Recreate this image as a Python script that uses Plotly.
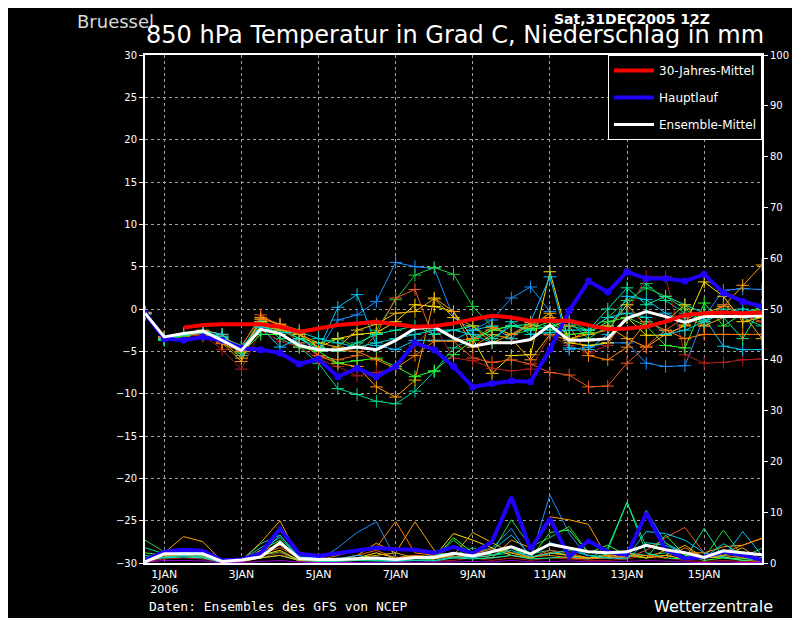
import pandas as pd
import plotly.graph_objects as go
from plotly.subplots import make_subplots

# 12-hourly forecast steps, Sat 31DEC2005 12Z run
times = pd.date_range("2005-12-31 12:00", periods=33, freq="12h")

tick_dates = ["2006-01-01", "2006-01-03", "2006-01-05", "2006-01-07",
              "2006-01-09", "2006-01-11", "2006-01-13", "2006-01-15"]
tick_labels = ["1JAN<br>2006", "3JAN", "5JAN", "7JAN", "9JAN", "11JAN", "13JAN", "15JAN"]

# 850 hPa temperature (deg C)
t_main = [-0.5, -3.5, -3.7, -3.3, -3.7, -4.6, -4.8, -5.2, -6.5, -5.9, -8.0, -7.0, -8.0, -6.8, -4.0, -4.8, -6.8,
          -9.2, -8.8, -8.5, -8.6, -4.8, -0.2, 3.3, 2.0, 4.4, 3.6, 3.6, 3.3, 4.1, 1.9, 0.9, 0.3]
t_mean = [-0.5, -3.3, -2.9, -2.6, -3.7, -4.9, -2.4, -2.9, -4.3, -4.8, -4.8, -4.5, -4.8, -3.7, -2.3, -2.1, -3.4,
          -4.4, -4.0, -4.0, -3.6, -1.9, -3.7, -3.7, -3.5, -1.1, -0.3, -0.9, -1.6, -0.9, -0.9, -0.9, -0.8]
t_clim = [None, None, -2.2, -1.9, -1.8, -1.8, -1.8, -2.1, -2.7, -2.3, -1.9, -1.7, -1.5, -1.8, -2.1, -2.0, -1.7,
          -1.2, -0.8, -1.0, -1.4, -1.4, -1.4, -1.9, -2.4, -2.3, -2.1, -1.5, -0.7, -0.5, -0.4, -0.5, -0.4]

# ensemble members: temperature
t_dodger = [-0.5, -3.4, -3.0, -3.0, -3.3, -5.0, -2.0, -3.0, -4.0, -5.0, -1.3, -0.7, 0.9, 5.5, 5.0, 4.8, -1.0,
            -2.5, -1.3, 1.3, 2.6, -0.3, -4.8, -4.5, -4.0, -4.0, -6.4, -6.8, -6.7, -0.9, 2.2, 2.4, 2.3]
t_green = [-0.5, -3.6, -3.1, -2.7, -3.4, -4.3, -1.2, -2.5, -3.5, -4.0, -3.5, -4.5, -2.5, 1.1, 4.0, 4.9, 4.1,
           0.3, -2.1, -3.0, -2.5, -2.0, -1.5, -2.5, -1.0, 1.0, 2.5, 1.5, 0.0, -1.5, 0.5, -1.0, 0.5]
t_teal = [-0.5, -3.6, -3.2, -3.0, -3.5, -4.8, -1.5, -3.5, -4.5, -6.4, -9.4, -10.1, -10.9, -11.2, -9.7, -7.4, -4.6,
          -3.5, -2.5, -2.0, -2.5, -2.0, -1.5, -3.5, -2.0, 0.5, 3.0, 1.0, -0.5, -1.5, 0.0, -1.0, -2.0]
t_yellow = [-0.5, -3.4, -3.0, -2.5, -3.0, -5.0, -1.5, -2.3, -3.0, -4.5, -3.5, -3.0, -2.8, -1.5, 0.5, 0.3, -0.3,
            -3.5, -7.6, -5.5, -5.4, 4.4, -4.0, -4.3, -4.0, -1.0, -3.1, -3.1, -1.9, 3.2, 1.5, -1.5, -1.0]
t_orange = [-0.4, -3.5, -3.2, -3.0, -4.0, -6.2, -1.0, -1.8, -3.0, -5.5, -6.4, -6.8, -9.2, -10.4, -8.4, 1.3, -0.3,
            -4.5, -3.0, -3.5, -6.0, -3.0, -3.7, -2.5, -2.0, -3.5, -4.5, -3.0, -2.0, -0.5, 0.3, 2.8, 5.2]
t_redorange = [-0.5, -3.3, -3.0, -3.2, -3.2, -4.5, -0.7, -2.0, -4.0, -5.5, -6.0, -5.5, -3.0, 1.3, 2.3, -3.7, -3.8,
               -5.8, -6.3, -6.0, -6.5, -7.5, -7.8, -9.2, -9.1, -6.4, -4.4, -2.5, -1.0, -2.0, 0.5, -0.8, -1.5]
t_darkred = [-0.5, -3.6, -3.3, -3.0, -4.8, -7.1, -2.5, -3.8, -4.5, -5.9, -6.8, -7.9, -7.5, -7.0, -4.3, -1.9, -5.8,
             -6.1, -7.0, -7.3, -7.1, -3.1, -4.3, -5.2, -4.3, -0.5, 3.8, 3.8, -5.4, -6.4, -6.3, -6.0, -5.9]
t_cyan = [-0.6, -3.5, -3.0, -2.6, -3.0, -5.5, -2.2, -4.5, -3.5, -4.8, 0.2, 1.7, -4.3, -4.8, -3.7, -3.7, -3.7,
          -2.5, -2.0, -3.5, -1.5, 3.8, -4.6, -4.8, -3.0, 1.5, 1.1, -0.5, -1.5, -1.0, -4.4, -4.8, -4.8]
t_lime = [-0.5, -3.7, -3.2, -2.8, -3.5, -5.2, -3.0, -3.0, -4.5, -5.0, -6.4, -6.1, -5.8, -6.8, -8.0, -7.3, -5.4,
          -3.7, -2.5, -2.0, -2.3, -1.5, -3.0, -2.8, -1.5, -1.0, -2.0, -4.3, -4.6, 0.7, -2.0, -0.5, 0.0]
t_spring = [-0.5, -3.6, -3.1, -2.7, -3.3, -4.5, -2.5, -2.2, -3.5, -4.5, -5.0, -4.0, -3.0, -2.5, -2.0, -3.0, -2.5,
            -2.0, -3.5, -2.0, -1.8, -2.5, -2.0, -2.5, 0.0, 2.5, 0.5, 1.5, 0.5, -0.5, -1.0, -3.5, 0.3]
t_gold = [-0.4, -3.3, -2.9, -2.6, -3.8, -5.8, -2.0, -2.5, -3.0, -4.0, -4.5, -2.5, -1.8, -0.5, -0.3, 1.2, -1.0,
          -2.0, -4.0, -3.0, -2.0, -0.5, -3.5, -3.0, -2.5, 0.5, -2.0, -1.5, 0.5, -2.0, -1.0, -0.5, -3.5]
t_darkorange = [-0.5, -3.4, -3.0, -2.9, -4.1, -5.0, -1.2, -1.8, -2.5, -4.8, -4.9, -5.0, -6.0, -7.0, -5.5, -3.8, -3.8,
                -3.5, -2.2, -3.0, -1.6, -1.0, -2.0, -5.5, -6.0, -4.5, -1.5, -2.5, -3.5, -3.0, -3.0, -3.0, -3.0]
t_aqua = [-0.6, -3.5, -3.0, -2.8, -3.4, -4.5, -2.0, -2.8, -2.7, -3.5, -4.0, -4.5, -4.0, -3.5, -3.0, -2.5, -2.5,
          -3.0, -4.0, -1.5, -3.0, -2.8, -2.5, -2.5, -1.0, -0.5, -1.0, -3.0, -2.5, -1.5, -0.5, 0.0, -0.5]

# precipitation (mm)
p_main = [0.5, 2.2, 2.6, 2.4, 0.5, 0.7, 1.9, 6.8, 1.8, 1.4, 1.9, 2.4, 3.0, 2.7, 2.6, 2.0, 3.2,
          1.9, 4.2, 13.0, 2.6, 8.8, 1.2, 4.4, 2.2, 1.6, 9.8, 2.6, 0.9, 1.2, 2.2, 1.6, 0.6]
p_mean = [0.2, 1.8, 1.8, 1.8, 0.3, 0.6, 1.2, 4.0, 0.9, 0.7, 0.7, 0.9, 1.0, 0.7, 1.1, 1.1, 1.9,
          1.4, 2.2, 3.2, 1.8, 3.7, 2.9, 2.2, 2.0, 2.2, 3.5, 2.6, 2.0, 1.1, 2.4, 2.0, 1.6]
p_dodger = [0.3, 1.0, 1.2, 1.0, 0.2, 0.3, 1.5, 5.5, 1.0, 0.5, 3.0, 6.0, 8.1, 0.9, 1.0, 1.5, 1.0,
            2.0, 3.0, 6.8, 0.9, 13.4, 5.8, 0.9, 1.0, 1.5, 10.4, 3.9, 2.0, 1.0, 2.2, 1.0, 0.5]
p_green = [4.5, 2.2, 2.5, 2.0, 0.2, 0.4, 1.5, 2.2, 0.5, 0.3, 0.5, 0.8, 0.6, 1.2, 0.5, 0.8, 4.5,
           1.5, 2.0, 8.5, 3.2, 5.0, 7.2, 2.0, 2.5, 11.9, 3.2, 4.0, 1.5, 1.0, 6.5, 1.2, 2.9]
p_teal = [3.0, 1.8, 2.0, 1.5, 0.2, 0.5, 3.8, 5.5, 1.0, 0.5, 1.0, 0.6, 1.0, 0.8, 1.2, 1.0, 1.5,
          3.0, 1.5, 2.0, 1.8, 2.5, 1.5, 1.0, 1.8, 2.0, 1.5, 2.0, 1.0, 1.0, 1.5, 1.0, 0.5]
p_yellow = [0.3, 1.2, 1.5, 1.2, 0.1, 0.3, 1.5, 2.5, 0.5, 0.3, 0.5, 1.0, 2.0, 1.0, 1.5, 1.2, 5.8,
            4.5, 3.0, 1.5, 1.0, 2.0, 1.5, 1.0, 1.2, 2.0, 1.0, 1.5, 0.8, 1.0, 1.2, 0.5, 0.3]
p_orange = [0.5, 2.0, 5.2, 4.2, 0.3, 0.5, 4.0, 8.3, 1.0, 0.8, 0.6, 1.5, 3.9, 2.0, 8.1, 2.5, 1.0,
            1.5, 1.0, 4.5, 3.0, 9.1, 8.5, 7.6, 0.9, 1.5, 1.0, 2.5, 2.0, 2.0, 3.2, 3.5, 4.9]
p_redorange = [0.5, 1.5, 2.0, 1.5, 0.1, 0.3, 1.8, 3.0, 1.0, 0.5, 0.8, 1.5, 2.5, 1.0, 1.5, 1.0, 1.0,
               2.0, 1.0, 1.5, 1.0, 2.5, 2.0, 1.0, 1.5, 1.0, 2.5, 5.0, 7.0, 2.0, 1.5, 1.0, 0.5]
p_darkred = [0.2, 0.8, 1.0, 0.8, 0.1, 0.2, 1.0, 2.0, 0.3, 0.2, 0.3, 0.5, 0.5, 0.3, 0.5, 0.4, 0.5,
             1.0, 0.5, 1.0, 0.5, 1.0, 0.8, 0.5, 0.5, 0.8, 1.5, 1.0, 0.5, 0.3, 0.5, 0.3, 0.2]
p_cyan = [1.0, 2.0, 2.2, 2.0, 0.2, 0.5, 2.0, 6.5, 1.2, 1.0, 0.8, 1.5, 1.0, 0.5, 1.0, 1.5, 2.0,
          1.0, 2.5, 5.5, 1.5, 4.0, 3.0, 1.5, 1.0, 1.2, 6.2, 5.8, 4.5, 2.0, 1.0, 6.2, 1.5]
p_lime = [2.0, 1.5, 1.8, 1.5, 0.2, 0.5, 2.5, 4.5, 0.8, 0.5, 0.6, 0.8, 0.5, 0.5, 1.0, 0.8, 5.0,
          2.0, 1.5, 3.0, 1.0, 6.0, 6.5, 2.0, 3.5, 1.5, 1.0, 5.5, 1.5, 0.5, 1.0, 0.8, 1.0]
p_spring = [1.5, 1.0, 1.2, 1.0, 0.1, 0.3, 1.0, 1.5, 0.5, 0.3, 0.3, 0.5, 0.4, 0.3, 0.5, 0.4, 1.0,
            0.8, 1.0, 1.5, 0.8, 1.0, 1.2, 0.8, 3.0, 12.0, 2.0, 1.0, 0.8, 6.8, 1.0, 0.5, 0.8]
p_gold = [0.5, 2.0, 2.5, 2.2, 0.1, 0.3, 1.0, 1.5, 0.5, 1.0, 0.8, 1.0, 1.5, 2.0, 1.0, 0.8, 1.5,
          6.0, 4.0, 2.0, 1.0, 2.0, 1.5, 1.0, 1.5, 2.0, 1.0, 1.5, 3.5, 1.0, 1.5, 3.0, 0.5]
p_darkorange = [0.3, 1.5, 1.5, 1.2, 0.1, 0.3, 2.5, 3.5, 0.8, 0.5, 1.5, 2.5, 3.0, 8.2, 2.0, 1.5, 1.2,
                1.8, 2.8, 2.0, 1.2, 1.5, 1.0, 0.8, 1.0, 1.2, 1.5, 1.0, 3.0, 1.0, 2.0, 3.5, 4.8]
p_aqua = [0.8, 1.2, 1.5, 1.2, 0.1, 0.6, 3.0, 5.0, 1.0, 0.8, 0.5, 0.8, 0.6, 0.4, 0.6, 0.5, 1.2,
          1.0, 1.5, 2.5, 1.2, 1.8, 2.5, 1.5, 1.0, 0.8, 4.0, 3.5, 2.0, 1.0, 3.8, 1.5, 1.0]
p_purple = [0.1, 0.5, 0.5, 0.4, 0.0, 0.1, 0.3, 0.5, 0.2, 0.1, 0.1, 0.2, 0.1, 0.1, 0.2, 0.1, 0.2,
            0.3, 0.2, 0.5, 0.2, 0.3, 0.4, 0.2, 0.2, 0.3, 0.5, 0.3, 0.2, 0.1, 0.2, 0.1, 0.1]

members = [
    ("#1e90ff", t_dodger, p_dodger),
    ("#20d040", t_green, p_green),
    ("#00d890", t_teal, p_teal),
    ("#ffe000", t_yellow, p_yellow),
    ("#ffa000", t_orange, p_orange),
    ("#f05a20", t_redorange, p_redorange),
    ("#b41e1e", t_darkred, p_darkred),
    ("#00c8ff", t_cyan, p_cyan),
    ("#30ff30", t_lime, p_lime),
    ("#00f0a0", t_spring, p_spring),
    ("#e6b400", t_gold, p_gold),
    ("#ff8000", t_darkorange, p_darkorange),
    ("#00d2d2", t_aqua, p_aqua),
]

fig = make_subplots(specs=[[{"secondary_y": True}]])

# precipitation spaghetti on the right axis
for col, t, p in members:
    fig.add_trace(go.Scatter(x=times, y=p, mode="lines", line=dict(color=col, width=1),
                             showlegend=False, hoverinfo="skip"), secondary_y=True)
fig.add_trace(go.Scatter(x=times, y=p_purple, mode="lines", line=dict(color="#a000dc", width=1),
                         showlegend=False, hoverinfo="skip"), secondary_y=True)
fig.add_trace(go.Scatter(x=times, y=p_main, mode="lines", line=dict(color="#2000ff", width=4),
                         showlegend=False, hoverinfo="skip"), secondary_y=True)
fig.add_trace(go.Scatter(x=times, y=p_mean, mode="lines", line=dict(color="white", width=3),
                         showlegend=False, hoverinfo="skip"), secondary_y=True)

# temperature spaghetti
for col, t, p in members:
    fig.add_trace(go.Scatter(x=times, y=t, mode="lines+markers", line=dict(color=col, width=1),
                             marker=dict(symbol="cross-thin", size=9, line=dict(color=col, width=1)),
                             showlegend=False, hoverinfo="skip"), secondary_y=False)

# main run: line (legend) + dots
fig.add_trace(go.Scatter(x=times, y=t_main, mode="lines", name="Hauptlauf",
                         line=dict(color="#2000ff", width=4), legendgroup="b", legendrank=2),
              secondary_y=False)
fig.add_trace(go.Scatter(x=times, y=t_main, mode="markers", marker=dict(size=7, color="#2000ff"),
                         showlegend=False, hoverinfo="skip"), secondary_y=False)
fig.add_trace(go.Scatter(x=times, y=t_mean, mode="lines", name="Ensemble-Mittel",
                         line=dict(color="white", width=3), legendgroup="c", legendrank=3),
              secondary_y=False)
fig.add_trace(go.Scatter(x=times, y=t_clim, mode="lines", name="30-Jahres-Mittel",
                         line=dict(color="#ff0000", width=4), legendgroup="a", legendrank=1),
              secondary_y=False)

grid = dict(showgrid=True, gridcolor="#a0a0a0", griddash="dot", gridwidth=1, zeroline=False)

fig.update_xaxes(domain=[0, 1], range=["2005-12-31 12:00", "2006-01-16 12:00"],
                 tickvals=tick_dates, ticktext=tick_labels,
                 showline=True, linecolor="white", linewidth=2, mirror=True, ticks="",
                 tickfont=dict(color="white", size=11, family="DejaVu Sans"), **grid)
fig.update_yaxes(range=[-30, 30], dtick=5, showline=True, linecolor="white", linewidth=2,
                 ticks="outside", ticklen=4, tickcolor="white",
                 tickfont=dict(color="white", size=10, family="DejaVu Sans"), secondary_y=False, **grid)
fig.update_yaxes(range=[0, 100], dtick=10, showgrid=False, zeroline=False, showline=True, linecolor="white",
                 linewidth=2, ticks="outside", ticklen=4, tickcolor="white",
                 tickfont=dict(color="white", size=10, family="DejaVu Sans"), secondary_y=True)

txt = dict(xref="paper", yref="paper", showarrow=False, yanchor="middle")
fig.update_layout(
    width=792, height=610, autosize=False,
    paper_bgcolor="black", plot_bgcolor="black",
    margin=dict(l=137, r=38, t=47, b=55, autoexpand=False),
    legend=dict(x=1, xanchor="right", y=1, yanchor="top", bgcolor="black", bordercolor="white",
                borderwidth=1, font=dict(color="white", size=12, family="DejaVu Sans"),
                tracegroupgap=8, itemwidth=40),
    annotations=[
        dict(text="Bruessel", x=-0.113, y=1.066, xanchor="left",
             font=dict(color="#d8d8d8", size=18, family="DejaVu Sans"), **txt),
        dict(text="<b>Sat,31DEC2005 12Z</b>", x=0.789, y=1.071, xanchor="center",
             font=dict(color="white", size=14, family="DejaVu Sans"), **txt),
        dict(text="850 hPa Temperatur in Grad C, Niederschlag in mm", x=0.502, y=1.040, xanchor="center",
             font=dict(color="white", size=24, family="DejaVu Sans"), **txt),
        dict(text="Daten: Ensembles des GFS von NCEP", x=0.003, y=-0.086, xanchor="left",
             font=dict(color="white", size=13, family="DejaVu Sans Mono"), **txt),
        dict(text="Wetterzentrale", x=1.021, y=-0.086, xanchor="right",
             font=dict(color="white", size=16, family="DejaVu Sans"), **txt),
    ],
)

fig.write_html("out.html")
